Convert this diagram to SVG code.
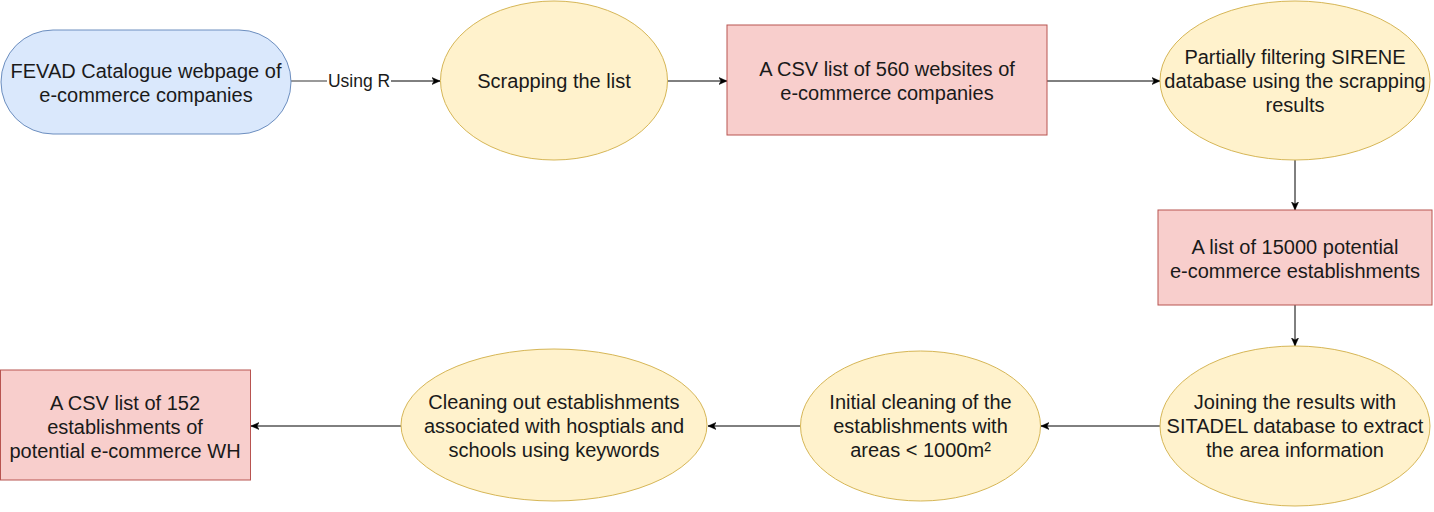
<svg xmlns="http://www.w3.org/2000/svg" width="1434" height="512" viewBox="0 0 1434 512">
<style>
.t{font-family:"Liberation Sans",Arial,Helvetica,sans-serif;font-size:20px;fill:#1a1a1a;text-anchor:middle}
.lbl{font-family:"Liberation Sans",Arial,Helvetica,sans-serif;font-size:17.5px;fill:#1a1a1a;text-anchor:middle}
.blue{fill:#dae8fc;stroke:#6c8ebf;stroke-width:1}
.yel{fill:#fff2cc;stroke:#d6b656;stroke-width:1}
.red{fill:#f8cecc;stroke:#b85450;stroke-width:1}
.e{stroke:#000;stroke-width:1;fill:none;marker-end:url(#arr)}
</style>
<defs>
<marker id="arr" markerUnits="userSpaceOnUse" markerWidth="10" markerHeight="10" refX="8" refY="4" orient="auto">
<path d="M0,0.5 L8,4 L0,7.5 L2,4 Z" fill="#000" stroke="#000" stroke-width="0.5"/>
</marker>
</defs>
<rect width="1434" height="512" fill="#fff"/>
<g id="connectors">
<line x1="291" y1="81" x2="327" y2="81" stroke="#777" stroke-width="1.5"/>
<text class="lbl" x="359" y="87">Using R</text>
<line class="e" x1="391" y1="81" x2="440" y2="81"/>
<line class="e" x1="667" y1="81" x2="727" y2="81"/>
<line class="e" x1="1047" y1="81" x2="1160" y2="81"/>
<line class="e" x1="1295" y1="160" x2="1295" y2="210"/>
<line class="e" x1="1295" y1="305" x2="1295" y2="346"/>
<line class="e" x1="1160" y1="426" x2="1041" y2="426"/>
<line class="e" x1="800" y1="426" x2="708" y2="426"/>
<line class="e" x1="401" y1="426" x2="251" y2="426"/>
</g>
<g id="fevad">
<rect class="blue" x="1" y="30" width="290" height="104" rx="52" ry="52"/>
<text class="t" x="146" y="78">FEVAD Catalogue webpage of</text>
<text class="t" x="146" y="102">e-commerce companies</text>
</g>
<g id="scrapping">
<ellipse class="yel" cx="554" cy="80.5" rx="113.5" ry="79.5"/>
<text class="t" x="554" y="88">Scrapping the list</text>
</g>
<g id="csv560">
<rect class="red" x="727" y="25" width="320" height="110"/>
<text class="t" x="887" y="76">A CSV list of 560 websites of</text>
<text class="t" x="887" y="100">e-commerce companies</text>
</g>
<g id="sirene">
<ellipse class="yel" cx="1295" cy="80.5" rx="135" ry="79.5"/>
<text class="t" x="1295" y="64">Partially filtering SIRENE</text>
<text class="t" x="1295" y="88">database using the scrapping</text>
<text class="t" x="1295" y="112">results</text>
</g>
<g id="list15000">
<rect class="red" x="1158" y="210" width="274" height="95"/>
<text class="t" x="1295" y="254">A list of 15000 potential</text>
<text class="t" x="1295" y="278">e-commerce establishments</text>
</g>
<g id="sitadel">
<ellipse class="yel" cx="1295" cy="426" rx="135" ry="80"/>
<text class="t" x="1295" y="409">Joining the results with</text>
<text class="t" x="1295" y="433">SITADEL database to extract</text>
<text class="t" x="1295" y="457">the area information</text>
</g>
<g id="initial">
<ellipse class="yel" cx="920.5" cy="426" rx="120" ry="75"/>
<text class="t" x="920.5" y="409">Initial cleaning of the</text>
<text class="t" x="920.5" y="433">establishments with</text>
<text class="t" x="920.5" y="457">areas &lt; 1000m²</text>
</g>
<g id="cleaning">
<ellipse class="yel" cx="554" cy="425" rx="153" ry="76"/>
<text class="t" x="554" y="409">Cleaning out establishments</text>
<text class="t" x="554" y="433">associated with hosptials and</text>
<text class="t" x="554" y="457">schools using keywords</text>
</g>
<g id="csv152">
<rect class="red" x="0.5" y="370" width="250" height="110"/>
<text class="t" x="125" y="410">A CSV list of 152</text>
<text class="t" x="125" y="434">establishments of</text>
<text class="t" x="125" y="458">potential e-commerce WH</text>
</g>
</svg>
